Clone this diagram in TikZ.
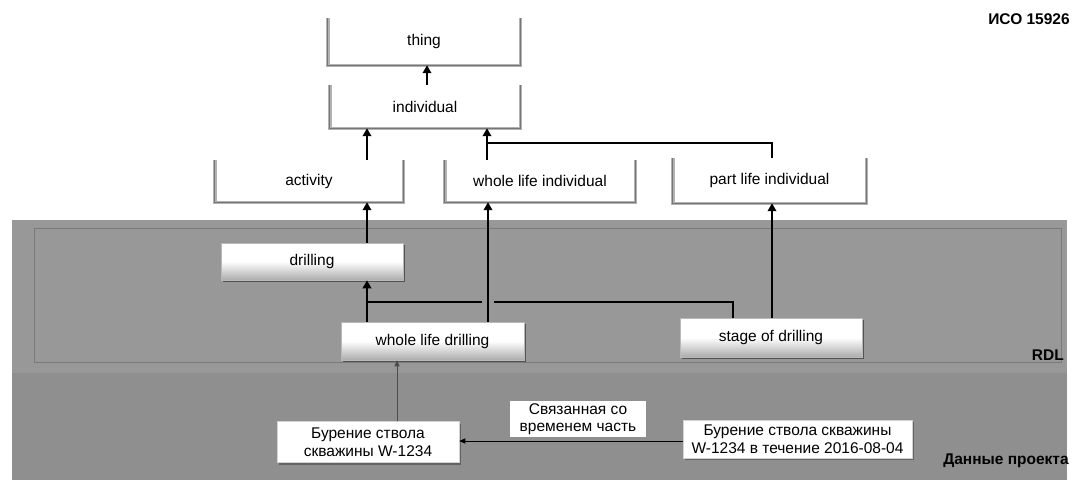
\documentclass[tikz,border=0pt]{standalone}
\usepackage{fontspec}
\setmainfont{Liberation Sans}
\usetikzlibrary{arrows.meta,shadows}
\definecolor{rdlgray}{RGB}{152,152,152}
\definecolor{pdgray}{RGB}{143,143,143}
\definecolor{framegray}{RGB}{122,122,122}
\definecolor{brkl}{RGB}{178,178,178}
\definecolor{brkd}{RGB}{118,118,118}
\newcommand\drawbracket[1]{%
  \draw[line width=3.4pt,brkl] (#1.north west) -- (#1.south west) -- (#1.south east) -- (#1.north east);
  \draw[line width=1.2pt,brkd] (#1.north west) -- (#1.south west) -- (#1.south east) -- (#1.north east);}
\begin{document}
\begin{tikzpicture}[x=1pt,y=-1pt,
  font=\fontsize{15.5}{17.5}\selectfont,
  cls/.style={inner sep=0pt, draw=none},
  rdlbox/.style={inner sep=0pt, top color=white, bottom color=gray!65, middle color=white,
    draw=gray!55, line width=0.6pt,
    drop shadow={shadow xshift=1.5pt, shadow yshift=-1.5pt, fill=black, opacity=0.45}},
  pdbox/.style={inner sep=0pt, fill=white, draw=gray!35, line width=0.5pt, align=center,
    drop shadow={shadow xshift=2pt, shadow yshift=-2pt, fill=black, opacity=0.3}},
  lbl/.style={inner sep=0pt, fill=white, align=center},
  tag/.style={inner sep=0pt, font=\fontsize{15.5}{17.5}\selectfont\bfseries},
  arr/.style={line width=2.2pt, -{Triangle[width=8.5pt,length=8pt]}},
  conn/.style={line width=2.2pt},
  thinarr/.style={line width=0.9pt, -{Triangle[width=5pt,length=6pt]}}
]
\useasboundingbox (0,0) rectangle (1074,480);
\fill[white] (0,0) rectangle (1074,480);

% regions
\fill[rdlgray] (12,220) rectangle (1067,373);
\fill[pdgray] (12,373) rectangle (1067,480);
\draw[framegray, line width=1pt] (34,228) rectangle (1061,362);

% top-level classes (open brackets)
\node[cls, minimum width=192pt, minimum height=47pt] (thing) at (424,41.5) {thing};
\node[cls, minimum width=190pt, minimum height=43pt] (ind) at (425,106.5) {individual};
\node[cls, minimum width=188pt, minimum height=42pt] (act) at (309,181) {activity};
\node[cls, minimum width=190pt, minimum height=42pt] (wli) at (540,181) {whole life individual};
\node[cls, minimum width=193pt, minimum height=45pt] (pli) at (769.5,180.5) {part life individual};
\drawbracket{thing}
\drawbracket{ind}
\drawbracket{act}
\drawbracket{wli}
\drawbracket{pli}

% RDL classes
\node[rdlbox, minimum width=182pt, minimum height=37pt] (drill) at (312,261.5) {drilling};
\node[rdlbox, minimum width=183pt, minimum height=38pt] (wld) at (432.5,341) {whole life drilling};
\node[rdlbox, minimum width=182pt, minimum height=39pt] (sod) at (771,337.5) {stage of drilling};

% project data
\node[pdbox, minimum width=182pt, minimum height=41pt] (left) at (368,442) {Бурение ствола\\скважины W-1234};
\node[pdbox, minimum width=229pt, minimum height=38pt] (right) at (797.5,439) {Бурение ствола скважины\\W-1234 в течение 2016-08-04};
\node[lbl, minimum width=136pt, minimum height=36pt] (rel) at (578,419) {Связанная со\\временем часть};

% labels
\node[tag, anchor=east] (rdl) at (1064,355) {RDL};
\node[tag] (pd) at (1006,461) {Данные проекта};
\node[tag] (iso) at (1029,19) {ИСО 15926};

% junction coordinates
\coordinate (jInd) at (487,143);
\coordinate (jDr) at (367,302);
\coordinate (hopL) at (482,302);
\coordinate (hopR) at (494,302);

% connectors (top)
\draw[arr] (ind.north -| 427,0) -- (thing.south -| 427,0);
\draw[arr] (act.north -| 367,0) -- (ind.south -| 367,0);
\draw[arr] (wli.north -| 487,0) -- (ind.south -| 487,0);
\draw[conn] (pli.north -| 772,0) |- (jInd);

% connectors (RDL)
\draw[arr] (drill.north -| 367,0) -- (act.south -| 367,0);
\draw[arr] (wld.north -| 367,0) -- (drill.south -| 367,0);
\draw[conn] (sod.north -| 733,0) |- (hopR);
\draw[conn] (hopL) -- (jDr);
\draw[arr] (wld.north -| 488,0) -- (wli.south -| 488,0);
\draw[arr] (sod.north -| 772,0) -- (pli.south -| 772,0);

% connectors (project data)
\draw[thinarr, draw=black!70, fill=black!70] (left.north -| 397,0) -- (wld.south -| 397,0);
\draw[thinarr] (right.west |- 0,441) -- (left.east |- 0,441);
\end{tikzpicture}
\end{document}
